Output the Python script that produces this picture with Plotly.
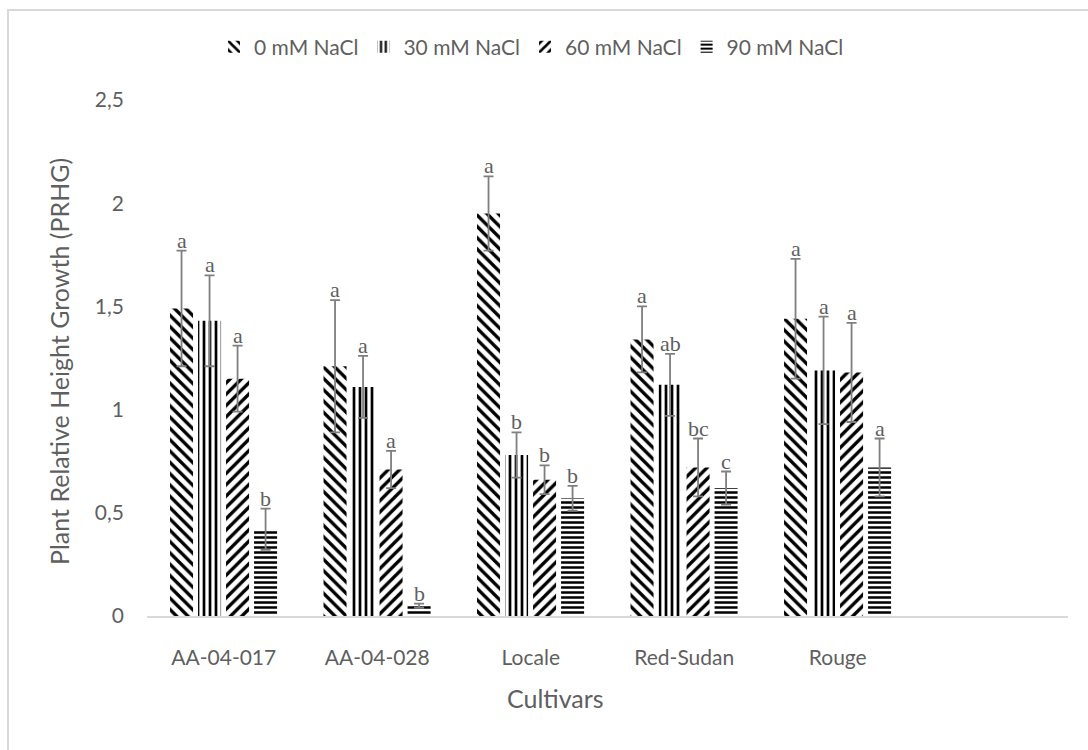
import plotly.graph_objects as go

# Cultivars and treatment means (relative height growth) with standard errors
cultivars = ["AA-04-017", "AA-04-028", "Locale", "Red-Sudan", "Rouge"]
treatments = ["0 mM NaCl", "30 mM NaCl", "60 mM NaCl", "90 mM NaCl"]

nacl_0 = [1.49, 1.21, 1.95, 1.34, 1.44]
nacl_30 = [1.43, 1.11, 0.78, 1.12, 1.19]
nacl_60 = [1.15, 0.71, 0.66, 0.72, 1.18]
nacl_90 = [0.42, 0.05, 0.57, 0.62, 0.72]

err_0 = [0.28, 0.32, 0.18, 0.16, 0.29]
err_30 = [0.22, 0.15, 0.11, 0.15, 0.26]
err_60 = [0.16, 0.09, 0.07, 0.14, 0.24]
err_90 = [0.10, 0.01, 0.06, 0.08, 0.14]

letters_0 = ["a", "a", "a", "a", "a"]
letters_30 = ["a", "a", "b", "ab", "a"]
letters_60 = ["a", "a", "b", "bc", "a"]
letters_90 = ["b", "b", "b", "c", "a"]

series = [
    (treatments[0], nacl_0, err_0, letters_0, "\\"),
    (treatments[1], nacl_30, err_30, letters_30, "|"),
    (treatments[2], nacl_60, err_60, letters_60, "/"),
    (treatments[3], nacl_90, err_90, letters_90, "-"),
]

GREY_TEXT = "#5f5f5f"
SANS = "Lato, 'Open Sans', sans-serif"
SERIF = "'Liberation Serif', 'DejaVu Serif', serif"

bar_width = 0.15
bar_pitch = 0.1825
group_start = -0.35
pattern_size = {"\\": 8, "|": 6, "/": 8, "-": 5}
pattern_solid = {"\\": 0.42, "|": 0.45, "/": 0.42, "-": 0.5}

xpos = list(range(len(cultivars)))

fig = go.Figure()
annotations = []
for i, (name, vals, errs, letters, shape) in enumerate(series):
    offset = group_start + i * bar_pitch
    fig.add_trace(go.Bar(
        name=name,
        x=xpos,
        y=vals,
        width=bar_width,
        offset=offset,
        marker=dict(
            color="white",
            line=dict(width=0),
            pattern=dict(shape=shape, fgcolor="black", bgcolor="white",
                         size=pattern_size[shape], solidity=pattern_solid[shape],
                         fillmode="replace"),
        ),
        error_y=dict(type="data", array=errs, visible=True,
                     color="#7f7f7f", thickness=1.8, width=5),
    ))
    for xp, v, e, lab in zip(xpos, vals, errs, letters):
        annotations.append(dict(
            x=xp + offset + bar_width / 2, y=v + e, xref="x", yref="y",
            text=lab, showarrow=False, yanchor="bottom", xanchor="center",
            yshift=-4,
            font=dict(family=SERIF, size=22, color=GREY_TEXT),
        ))

# axis titles
annotations.append(dict(
    text="Plant Relative Height Growth (PRHG)", textangle=-90,
    x=(59 - 147) / 921, y=(616 - 362) / 516, xref="paper", yref="paper",
    showarrow=False, xanchor="center", yanchor="middle",
    font=dict(family=SANS, size=25, color=GREY_TEXT),
))
annotations.append(dict(
    text="Cultivars", x=(555 - 147) / 921, y=-(698 - 616) / 516,
    xref="paper", yref="paper", showarrow=False,
    xanchor="center", yanchor="middle",
    font=dict(family=SANS, size=25, color=GREY_TEXT),
))

fig.update_layout(
    width=1088, height=750,
    margin=dict(l=147, r=20, t=100, b=134),
    paper_bgcolor="white", plot_bgcolor="white",
    separators=", ",
    showlegend=True,
    legend=dict(orientation="h", x=(214 - 147) / 921, xanchor="left",
                y=1 + (100 - 47) / 516, yanchor="middle",
                font=dict(family=SANS, size=21, color=GREY_TEXT),
                itemwidth=30, bgcolor="rgba(0,0,0,0)"),
    annotations=annotations,
    shapes=[
        # chart-area frame (top and left edges fall inside the page)
        dict(type="rect", xref="paper", yref="paper",
             x0=(8 - 147) / 921, x1=1.2, y0=-0.4, y1=1 + (100 - 10) / 516,
             line=dict(color="#d9d9d9", width=2), fillcolor="rgba(0,0,0,0)", layer="below"),
    ],
)

fig.update_xaxes(
    range=[-0.5, 5.5], tickmode="array", tickvals=xpos, ticktext=cultivars,
    showgrid=False, zeroline=False, showline=True, linecolor="#d9d9d9", linewidth=1.5,
    ticks="", ticklabelstandoff=22,
    tickfont=dict(family=SANS, size=21, color=GREY_TEXT),
)
fig.update_yaxes(
    range=[0, 2.5], tickvals=[0, 0.5, 1, 1.5, 2, 2.5],
    showgrid=False, zeroline=False, showline=False, ticks="",
    ticklabelstandoff=22,
    tickfont=dict(family=SANS, size=21, color=GREY_TEXT),
)

fig.write_html("out.html")
